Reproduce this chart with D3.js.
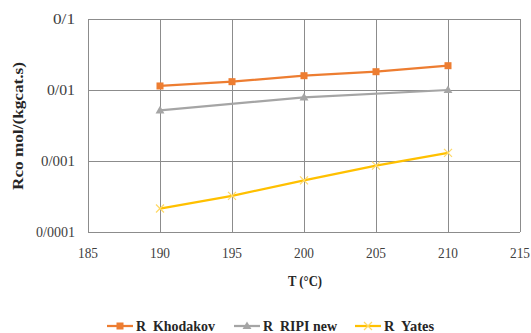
<!DOCTYPE html>
<html><head><meta charset="utf-8">
<script src="https://cdn.jsdelivr.net/npm/d3@7"></script>
<style>body{margin:0;background:#fff}svg{display:block}</style>
</head><body><svg id="c" width="531" height="333" font-family="'Liberation Serif','Times New Roman',serif"></svg>
<script>
const xTicks = [185, 190, 195, 200, 205, 210, 215];
const yTicks = [0.0001, 0.001, 0.01, 0.1];
const yTickLabels = ["0/0001", "0/001", "0/01", "0/1"];
const khodakovT = [190, 195, 200, 205, 210];
const khodakovR = [0.0114, 0.0131, 0.0159, 0.0181, 0.0220];
const ripiT = [190, 200, 210];
const ripiR = [0.00515, 0.00787, 0.0100];
const yatesT = [190, 195, 200, 205, 210];
const yatesR = [0.000214, 0.000323, 0.000533, 0.000859, 0.00130];
const seriesNames = ["R  Khodakov", "R  RIPI new", "R  Yates"];
const colors = ["#ED7D31", "#A5A5A5", "#FFC000"];

const svg = d3.select("#c");
const L = 88, R = 520, T = 19, B = 232;
const x = d3.scaleLinear().domain([185, 215]).range([L, R]);
const y = d3.scaleLog().domain([0.0001, 0.1]).range([B, T]);
const grid = "#8c8c8c";

svg.append("g").selectAll("line").data(yTicks).join("line")
  .attr("x1", L).attr("x2", R).attr("y1", d => y(d)).attr("y2", d => y(d))
  .attr("stroke", grid).attr("stroke-width", 1).attr("shape-rendering","crispEdges");
svg.append("g").selectAll("line").data(xTicks).join("line")
  .attr("x1", d => x(d)).attr("x2", d => x(d)).attr("y1", T).attr("y2", B)
  .attr("stroke", grid).attr("stroke-width", 1).attr("shape-rendering","crispEdges");

svg.append("g").selectAll("text").data(yTicks).join("text")
  .attr("x", L - 13).attr("y", d => y(d)).attr("dy", "0.35em")
  .attr("text-anchor", "end").attr("font-size", 15).attr("fill", "#404040")
  .attr("textLength", (d, i) => 4 + yTickLabels[i].length * 6 - (yTickLabels[i].length === 6 ? 1 : 0))
  .attr("lengthAdjust", "spacingAndGlyphs")
  .text((d, i) => yTickLabels[i]);
svg.append("g").selectAll("text").data(xTicks).join("text")
  .attr("x", d => x(d)).attr("y", B + 21).attr("dy", "0.35em")
  .attr("text-anchor", "middle").attr("font-size", 15).attr("fill", "#404040")
  .attr("textLength", 20).attr("lengthAdjust", "spacingAndGlyphs")
  .text(d => d);

svg.append("text").attr("x", 288).attr("y", 281).attr("dy","0.35em")
  .attr("font-size", 14).attr("font-weight", "bold")
  .attr("textLength", 34).attr("lengthAdjust", "spacingAndGlyphs")
  .attr("fill", "#262626").text("T (\u00B0C)");
svg.append("text").attr("transform", "translate(18,190) rotate(-90)").attr("dy","0.35em")
  .attr("font-size", 14).attr("font-weight", "bold")
  .attr("textLength", 128).attr("lengthAdjust", "spacingAndGlyphs")
  .attr("fill", "#262626").text("Rco mol/(kgcat.s)");

const data = [
  khodakovT.map((t, i) => [t, khodakovR[i]]),
  ripiT.map((t, i) => [t, ripiR[i]]),
  yatesT.map((t, i) => [t, yatesR[i]])
];
const line = d3.line().x(d => x(d[0])).y(d => y(d[1]));

function marker(g, k, cx, cy) {
  if (k === 0) {
    g.append("rect").attr("x", cx - 3.5).attr("y", cy - 3.5).attr("width", 7).attr("height", 7).attr("fill", colors[0]);
  } else if (k === 1) {
    g.append("path").attr("transform", `translate(${cx},${cy+0.5})`)
      .attr("d", d3.symbol(d3.symbolTriangle, 34)()).attr("fill", colors[1]);
  } else {
    g.append("path").attr("transform", `translate(${cx},${cy})`)
      .attr("d", "M-4,-4L4,4M-4,4L4,-4").attr("stroke", "#FFD966").attr("stroke-width", 1.2).attr("fill","none");
  }
}

data.forEach((pts, k) => {
  const g = svg.append("g");
  g.append("path").datum(pts).attr("d", line).attr("fill", "none")
    .attr("stroke", colors[k]).attr("stroke-width", 2.25).attr("stroke-linejoin","round").attr("stroke-linecap","round");
  pts.forEach(p => marker(g, k, x(p[0]), y(p[1])));
});

const legX = [107, 234, 355];
const legW = [79, 74, 50];
const legY = 326;
seriesNames.forEach((n, k) => {
  const g = svg.append("g");
  g.append("line").attr("x1", legX[k]).attr("x2", legX[k] + 26).attr("y1", legY).attr("y2", legY)
    .attr("stroke", colors[k]).attr("stroke-width", 2.25);
  marker(g, k, legX[k] + 13, legY);
  g.append("text").attr("x", legX[k] + 29).attr("y", legY).attr("dy", "0.35em")
    .attr("font-size", 15).attr("font-weight", "bold").attr("fill", "#262626")
    .attr("textLength", legW[k]).attr("lengthAdjust", "spacingAndGlyphs")
    .style("white-space","pre").text(n);
});
</script></body></html>
